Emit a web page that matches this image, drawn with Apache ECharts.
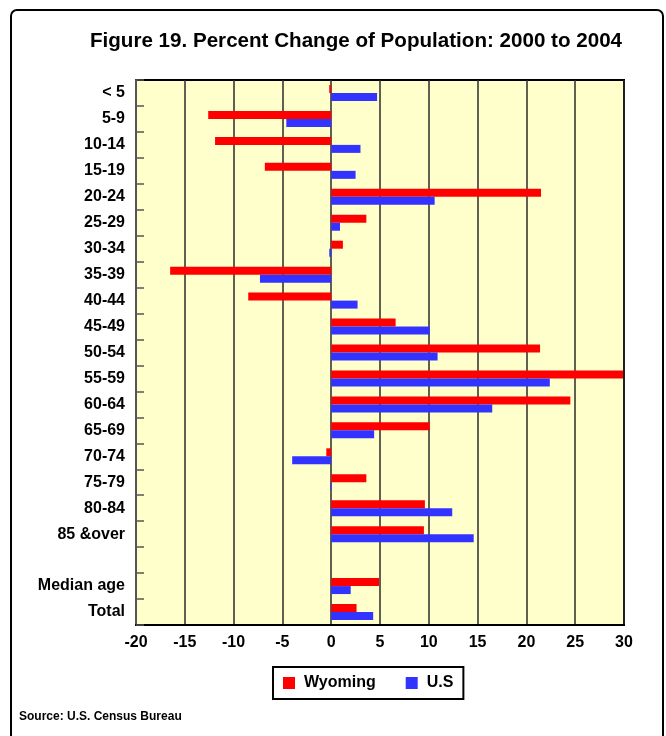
<!DOCTYPE html>
<html>
<head>
<meta charset="utf-8">
<title>Percent Change of Population: 2000 to 2004</title>
<script src="https://cdn.jsdelivr.net/npm/echarts@6/dist/echarts.min.js"></script>
<style>
  html, body { margin: 0; padding: 0; background: #fff; }
  #chart { width: 666px; height: 736px; }
</style>
</head>
<body>
<div id="chart"></div>
<script>
// Age groups, top to bottom; the empty entry is the spacer row before the summary rows
const categories = ['< 5', '5-9', '10-14', '15-19', '20-24', '25-29', '30-34', '35-39', '40-44',
  '45-49', '50-54', '55-59', '60-64', '65-69', '70-74', '75-79', '80-84', '85 &over', '',
  'Median age', 'Total'];

// Percent change, 2000 to 2004
const wyoming = [-0.2, -12.6, -11.9, -6.8, 21.5, 3.6, 1.2, -16.5, -8.5,
  6.6, 21.4, 29.9, 24.5, 10.1, -0.5, 3.6, 9.6, 9.5, null, 4.9, 2.6];
const us = [4.7, -4.6, 3.0, 2.5, 10.6, 0.9, -0.2, -7.3, 2.7,
  10.1, 10.9, 22.4, 16.5, 4.4, -4.0, -0.1, 12.4, 14.6, null, 2.0, 4.3];

const xTicks = { min: -20, max: 30, step: 5 };

const FONT = 'Liberation Sans, Arial, Helvetica, sans-serif';

const chart = echarts.init(document.getElementById('chart'), null, { renderer: 'canvas' });

chart.setOption({
  backgroundColor: '#ffffff',
  animation: false,
  graphic: [
    {
      type: 'rect',
      shape: { x: 11, y: 10, width: 652, height: 740, r: 6 },
      style: { fill: 'none', stroke: '#000', lineWidth: 2 },
      z: 0
    },
    {
      type: 'text',
      x: 356, y: 41,
      style: {
        text: 'Figure 19. Percent Change of Population: 2000 to 2004',
        font: 'bold 20.6px ' + FONT,
        fill: '#000',
        align: 'center',
        verticalAlign: 'middle'
      }
    },
    {
      type: 'text',
      x: 19, y: 717,
      style: {
        text: 'Source: U.S. Census Bureau',
        font: 'bold 12px ' + FONT,
        fill: '#000',
        align: 'left',
        verticalAlign: 'middle'
      }
    }
  ],
  legend: {
    data: ['Wyoming', 'U.S'],
    left: 273,
    top: 667,
    orient: 'horizontal',
    icon: 'rect',
    itemWidth: 12,
    itemHeight: 12,
    itemGap: 30,
    padding: [8, 10, 8, 10],
    borderColor: '#000',
    borderWidth: 2,
    backgroundColor: '#fff',
    textStyle: { fontFamily: FONT, fontWeight: 'bold', fontSize: 16, color: '#000', padding: [0, 0, 0, 4] }
  },
  grid: {
    left: 136,
    right: 42,
    top: 80,
    bottom: 111,
    show: true,
    backgroundColor: '#FFFFCC',
    borderColor: '#000',
    borderWidth: 2,
    containLabel: false
  },
  xAxis: {
    type: 'value',
    min: xTicks.min,
    max: xTicks.max,
    interval: xTicks.step,
    axisLine: { show: true, onZero: false, lineStyle: { color: '#000', width: 2 } },
    axisTick: { show: false },
    splitLine: { show: true, lineStyle: { color: '#2a2a2a', width: 1.5 } },
    axisLabel: {
      fontFamily: FONT, fontWeight: 'bold', fontSize: 16, color: '#000', margin: 10
    }
  },
  yAxis: {
    type: 'category',
    data: categories,
    inverse: true,
    axisLine: { show: true, onZero: false, lineStyle: { color: '#555', width: 2 } },
    axisTick: { show: true, inside: true, length: 8, alignWithLabel: false, lineStyle: { color: '#555', width: 1.5 } },
    splitLine: { show: false },
    axisLabel: {
      fontFamily: FONT, fontWeight: 'bold', fontSize: 16, color: '#000', margin: 11,
      padding: [3, 0, 0, 0]
    }
  },
  series: [
    {
      name: 'Wyoming',
      type: 'bar',
      data: wyoming,
      barWidth: 8,
      barGap: '0%',
      itemStyle: { color: '#FF0000' }
    },
    {
      name: 'U.S',
      type: 'bar',
      data: us,
      barWidth: 8,
      barGap: '0%',
      itemStyle: { color: '#3333FF' }
    }
  ]
});
</script>
</body>
</html>
